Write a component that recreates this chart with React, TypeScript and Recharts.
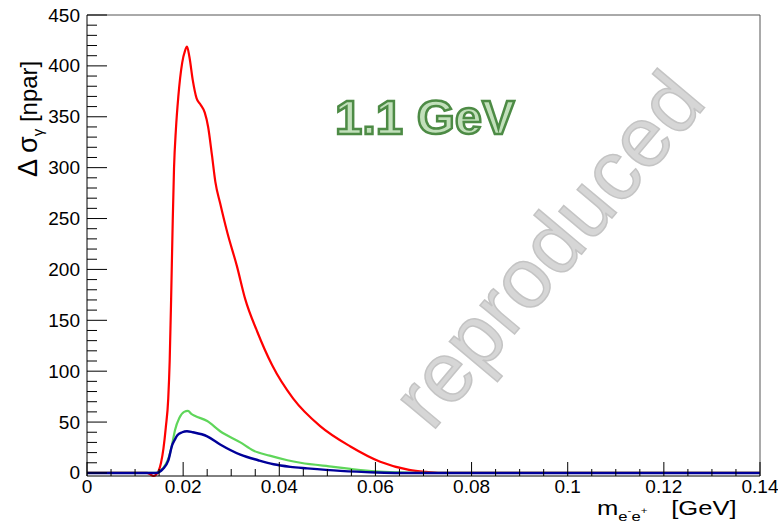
import React from "react";
import { Line, LineChart, ReferenceLine, XAxis, YAxis } from "recharts";

const FONT = '"Liberation Sans", Arial, Helvetica, sans-serif';

// red curve
const redX = [
  0, 0.0125, 0.0132, 0.0138, 0.0144, 0.0149, 0.0154, 0.0159, 0.0164, 0.0169, 0.0172, 0.0175, 0.0178,
  0.0181, 0.0185, 0.019, 0.0198, 0.0204, 0.0208, 0.0213, 0.022, 0.0228, 0.0236, 0.0245, 0.0252, 0.026,
  0.0267, 0.0277, 0.0292, 0.0312, 0.0329, 0.0354, 0.0385, 0.0429, 0.0485, 0.0548, 0.061, 0.067, 0.0705,
  0.0735, 0.14,
];
const redY = [
  0, 0, -1.5, -3, -1.5, 2, 10, 24, 45, 73, 110, 171, 240, 299, 338, 370, 403, 415, 419, 409, 386, 368,
  362, 354, 340, 312, 286, 265, 236, 203, 171, 139, 106, 73, 46, 26, 11, 3, 1, 0, 0,
];

// green curve
const greenX = [
  0, 0.0144, 0.0155, 0.0163, 0.017, 0.0177, 0.0183, 0.0192, 0.0202, 0.021, 0.0217, 0.0225, 0.025, 0.0277,
  0.0319, 0.0346, 0.038, 0.0417, 0.0444, 0.0513, 0.0548, 0.06, 0.065, 0.07, 0.14,
];
const greenY = [0, 0, 3, 8, 15, 28, 42, 54, 60, 61, 58, 56, 51, 41, 30, 22, 17, 12.5, 10, 6, 4, 1.5, 0.5, 0, 0];

// blue curve
const blueX = [
  0, 0.0144, 0.0158, 0.0169, 0.0177, 0.0183, 0.0188, 0.0198, 0.0208, 0.022, 0.025, 0.0277, 0.0319, 0.0356,
  0.0388, 0.0423, 0.0458, 0.0527, 0.06, 0.065, 0.14,
];
const blueY = [0, 0, 4, 12, 27, 33, 37, 40, 41, 40, 36, 28, 18, 12.5, 8.5, 6, 4.5, 2, 0.5, 0, 0];

const xMajor = [0, 0.02, 0.04, 0.06, 0.08, 0.1, 0.12, 0.14];
const xTicks = [
  0, 0.005, 0.01, 0.015, 0.02, 0.025, 0.03, 0.035, 0.04, 0.045, 0.05, 0.055, 0.06, 0.065, 0.07, 0.075,
  0.08, 0.085, 0.09, 0.095, 0.1, 0.105, 0.11, 0.115, 0.12, 0.125, 0.13, 0.135, 0.14,
];
const yMajor = [0, 50, 100, 150, 200, 250, 300, 350, 400, 450];
const yTicks = [
  0, 10, 20, 30, 40, 50, 60, 70, 80, 90, 100, 110, 120, 130, 140, 150, 160, 170, 180, 190, 200, 210, 220,
  230, 240, 250, 260, 270, 280, 290, 300, 310, 320, 330, 340, 350, 360, 370, 380, 390, 400, 410, 420, 430,
  440, 450,
];

const zip = (xs: number[], ys: number[]) => xs.map((x, i) => ({ x, y: ys[i] }));
const red = zip(redX, redY);
const green = zip(greenX, greenY);
const blue = zip(blueX, blueY);

const isMajor = (v: number, list: number[]) => list.some((m) => Math.abs(m - v) < 1e-9);

function XTick(props: any) {
  const { x, y, payload } = props;
  const major = isMajor(payload.value, xMajor);
  return (
    <g>
      <line x1={x} x2={x} y1={y} y2={y - (major ? 14 : 7)} stroke="#000" />
      {major && (
        <text x={x} y={y + 17} textAnchor="middle" fontSize={19} fontFamily={FONT} fill="#000">
          {String(Number(payload.value.toFixed(3)))}
        </text>
      )}
    </g>
  );
}

function YTick(props: any) {
  const { x, y, payload } = props;
  const major = isMajor(payload.value, yMajor);
  return (
    <g>
      <line x1={x} x2={x + (major ? 20 : 10)} y1={y} y2={y} stroke="#000" />
      {major && (
        <text x={x - 7} y={y + 6.5} textAnchor="end" fontSize={19} fontFamily={FONT} fill="#000">
          {payload.value}
        </text>
      )}
    </g>
  );
}

export default function App() {
  const W = 778;
  const H = 527;
  return (
    <div style={{ position: "absolute", left: 0, top: 0, width: W, height: H, background: "#fff" }}>
      <LineChart width={W} height={H} margin={{ top: 15, right: 18, left: 0, bottom: 0 }}>
        <XAxis
          type="number"
          dataKey="x"
          domain={[0, 0.14]}
          ticks={xTicks}
          interval={0}
          height={51}
          axisLine={{ stroke: "#000" }}
          tickLine={false}
          tickSize={0}
          tickMargin={0}
          tick={(p: any) => <XTick {...p} />}
        />
        <YAxis
          type="number"
          domain={() => [0, 450]}
          ticks={yTicks}
          interval={0}
          width={87}
          axisLine={{ stroke: "#000" }}
          tickLine={false}
          tickSize={0}
          tickMargin={0}
          tick={(p: any) => <YTick {...p} />}
        />
        <ReferenceLine y={450} stroke="#555" />
        <ReferenceLine x={0.14} stroke="#555" />
        <Line data={red} dataKey="y" type="monotone" stroke="#ff0000" strokeWidth={2.2} dot={false} isAnimationActive={false} />
        <Line data={green} dataKey="y" type="monotone" stroke="#5fd65a" strokeWidth={2.2} dot={false} isAnimationActive={false} />
        <Line data={blue} dataKey="y" type="monotone" stroke="#000099" strokeWidth={2.4} dot={false} isAnimationActive={false} />
      </LineChart>
      <svg
        width={W}
        height={H}
        style={{ position: "absolute", left: 0, top: 0, pointerEvents: "none" }}
        fontFamily={FONT}
      >
        <text
          transform="translate(570,268) rotate(-50)"
          textAnchor="middle"
          fontSize={85}
          fill="#d6d6d6"
          stroke="#c4c4c4"
          strokeWidth={1.5}
        >
          reproduced
        </text>
        <text
          x={335}
          y={134}
          fontSize={49}
          fontWeight="bold"
          fill="#c2e0bb"
          stroke="#4d8b45"
          strokeWidth={2.5}
        >
          1.1 GeV
        </text>
        <text transform="translate(37,177) rotate(-90)" fontSize={24} fill="#000">
          <tspan fontSize={27}>Δ</tspan>
          <tspan fontSize={27}> σ</tspan>
          <tspan fontSize={15} dy={6}>γ</tspan>
          <tspan dy={-6}> [npar]</tspan>
        </text>
        <g transform="translate(597,515) scale(1.28,1)">
          <text x={0} y={0} fontSize={20} fill="#000">
            m
            <tspan fontSize={13} dy={6}>e</tspan>
            <tspan fontSize={9} dy={-7}>-</tspan>
            <tspan fontSize={13} dy={7}>e</tspan>
            <tspan fontSize={9} dy={-7}>+</tspan>
          </text>
          <text x={58} y={0} fontSize={20} fill="#000">
            [GeV]
          </text>
        </g>
      </svg>
    </div>
  );
}
